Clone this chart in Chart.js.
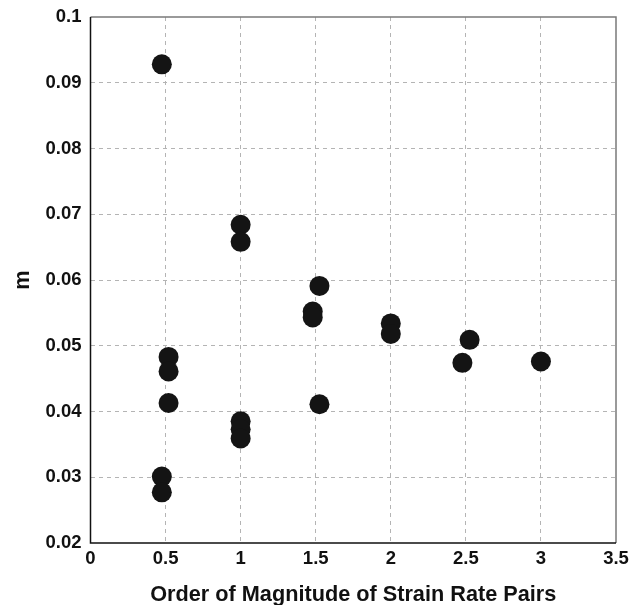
<!DOCTYPE html>
<html>
<head>
<meta charset="utf-8">
<script src="https://cdn.jsdelivr.net/npm/chart.js"></script>
<style>
  html, body { margin: 0; padding: 0; background: #fff; }
  #wrap { width: 642px; height: 605px; }
</style>
</head>
<body>
<div id="wrap"><canvas id="chart"></canvas></div>
<script>
// strain rate pair order (x) and strain rate sensitivity m (y)
const orderValues = [0.475, 0.475, 0.475, 0.52, 0.52, 0.52,
  1.0, 1.0, 1.0, 1.0, 1.0,
  1.48, 1.48, 1.525, 1.525,
  2.0, 2.0, 2.477, 2.525, 3.0];
const mValues = [0.0928, 0.0301, 0.0277, 0.0483, 0.0461, 0.0413,
  0.0684, 0.0658, 0.0385, 0.0373, 0.0359,
  0.0552, 0.0543, 0.0591, 0.0411,
  0.0534, 0.0518, 0.0474, 0.0509, 0.0476];
const xTicks = [0, 0.5, 1, 1.5, 2, 2.5, 3, 3.5];
const yTicks = [0.02, 0.03, 0.04, 0.05, 0.06, 0.07, 0.08, 0.09, 0.1];

const points = orderValues.map((x, i) => ({ x: x, y: mValues[i] }));
const fontFamily = 'Liberation Sans, Arial, sans-serif';
const tickFont = { family: fontFamily, size: 18.5, weight: 'bold' };
const titleFont = { family: fontFamily, size: 21.7, weight: 'bold' };

// frame: black left/bottom, gray top/right
const framePlugin = {
  id: 'frame',
  afterDraw(chart) {
    const { ctx, chartArea: a } = chart;
    ctx.save();
    ctx.lineWidth = 1.5;
    ctx.strokeStyle = '#7a7a7a';
    ctx.beginPath();
    ctx.moveTo(a.left, a.top);
    ctx.lineTo(a.right, a.top);
    ctx.lineTo(a.right, a.bottom);
    ctx.stroke();
    ctx.strokeStyle = '#111';
    ctx.beginPath();
    ctx.moveTo(a.left, a.top);
    ctx.lineTo(a.left, a.bottom);
    ctx.lineTo(a.right, a.bottom);
    ctx.stroke();
    ctx.restore();
  }
};

function gridColor(edges) {
  return ctx => edges.includes(Number(ctx.tick.value.toFixed(3))) ? 'rgba(0,0,0,0)' : '#b4b4b4';
}

new Chart(document.getElementById('chart'), {
  type: 'scatter',
  data: {
    datasets: [{
      data: points,
      backgroundColor: '#141414',
      borderWidth: 0,
      pointRadius: 10,
      pointHoverRadius: 10
    }]
  },
  plugins: [framePlugin],
  options: {
    responsive: true,
    maintainAspectRatio: false,
    animation: false,
    layout: { padding: { top: 17, right: 26, left: 0, bottom: 0 } },
    plugins: { legend: { display: false }, tooltip: { enabled: false } },
    scales: {
      x: {
        type: 'linear',
        min: 0,
        max: 3.5,
        afterBuildTicks: s => { s.ticks = xTicks.map(v => ({ value: v })); },
        afterFit: s => { s.height = 62; },
        ticks: {
          color: '#111',
          font: tickFont,
          padding: 5,
          maxRotation: 0,
          callback: v => String(Number(v.toFixed(2)))
        },
        grid: { color: gridColor([0, 3.5]), drawTicks: false, lineWidth: 1 },
        border: { display: false, dash: [4, 4] },
        title: {
          display: true,
          text: 'Order of Magnitude of Strain Rate Pairs',
          color: '#111',
          font: titleFont,
          padding: { top: 2, bottom: -3 }
        }
      },
      y: {
        type: 'linear',
        min: 0.02,
        max: 0.1,
        afterBuildTicks: s => { s.ticks = yTicks.map(v => ({ value: v })); },
        afterFit: s => { s.width = 90.5; s.paddingTop = 0; s.paddingBottom = 0; },
        ticks: {
          color: '#111',
          font: tickFont,
          padding: 9,
          callback: v => String(Number(v.toFixed(3)))
        },
        grid: { color: gridColor([0.02, 0.1]), drawTicks: false, lineWidth: 1 },
        border: { display: false, dash: [4, 4] },
        title: {
          display: true,
          text: 'm',
          color: '#111',
          font: titleFont,
          padding: { top: 10, bottom: 0 }
        }
      }
    }
  }
});
</script>
</body>
</html>
